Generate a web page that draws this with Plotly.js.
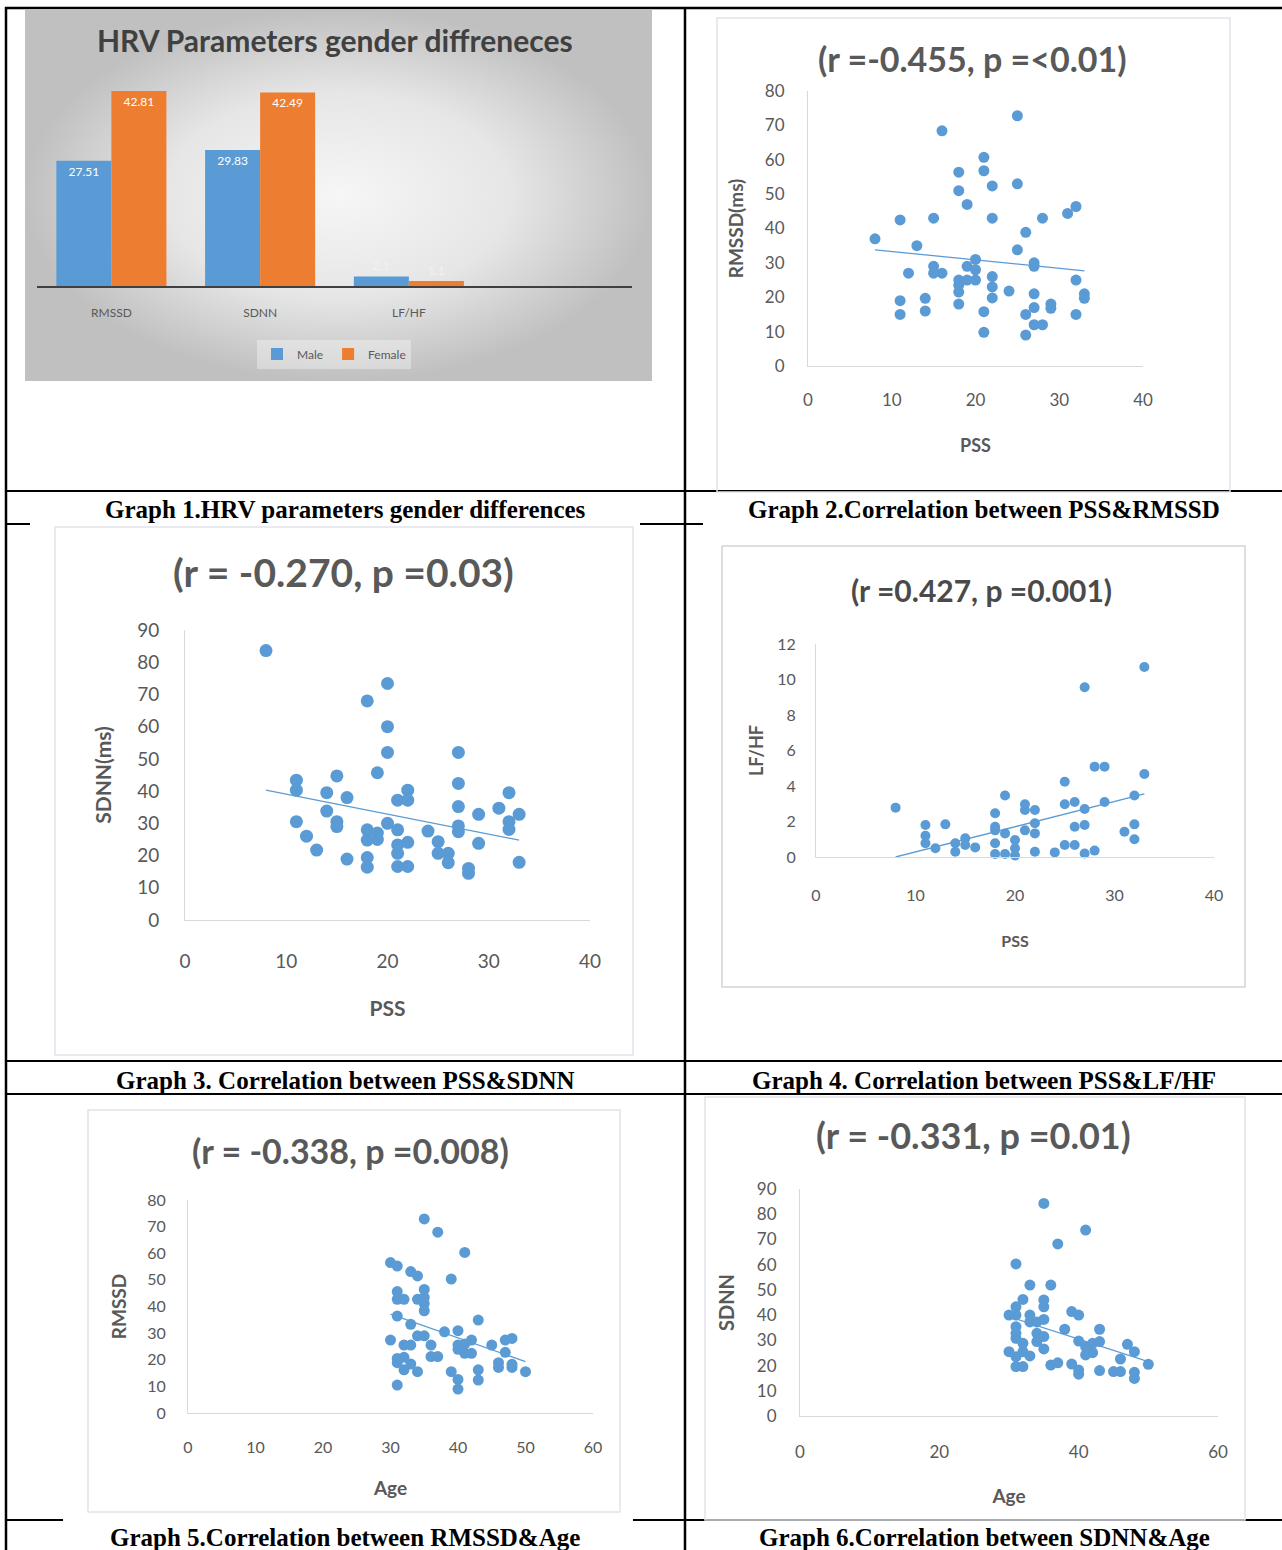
<!DOCTYPE html>
<html>
<head>
<meta charset="utf-8">
<script src="https://cdn.plot.ly/plotly-3.0.1.min.js"></script>
<style>
html,body{margin:0;padding:0;background:#ffffff;}
#chart{width:1282px;height:1550px;}
</style>
</head>
<body>
<div id="chart"></div>
<script>
// ---------------- DATA ----------------
// Graph 1: HRV parameters gender differences
const hrvCategories = ['RMSSD', 'SDNN', 'LF/HF'];
const maleValues = [27.51, 29.83, 2.1];
const femaleValues = [42.81, 42.49, 1.1];

// Graph 2: PSS vs RMSSD
const g2PSS = [8,11,11,11,12,13,14,14,15,15,15,16,16,18,18,18,18,18,18,19,19,19,20,20,20,21,21,21,21,22,22,22,22,22,24,25,25,25,26,26,26,27,27,27,27,27,28,28,29,29,31,32,32,32,33,33];
const g2RMSSD = [37,42.5,19,15,27,35,19.7,16,43,29,27,27,68.4,56.4,51,25,23.5,21.5,18,47,29,25,31,28,25,60.7,56.8,15.8,9.8,52.4,43,26,23,19.8,21.8,72.8,53,33.8,38.9,15,9,30,29,21,17,12,43,12,18,16.8,44.4,46.4,25,15,21,19.7];
const g2TrendPSS = [8, 33];
const g2TrendRMSSD = [33.8, 27.7];

// Graph 3: PSS vs SDNN
const g3PSS = [8,11,11,11,12,13,14,14,15,15,15,16,16,18,18,18,18,18,19,19,19,20,20,20,20,21,21,21,21,21,22,22,22,22,24,25,25,26,26,27,27,27,27,27,28,28,29,29,31,32,32,32,33,33];
const g3SDNN = [83.6,43.4,40.3,30.5,26,21.7,39.5,33.8,44.7,30.5,29,38,18.9,68,28,24.8,19.4,16.4,45.7,27,25,73.4,60,52,30,37.2,28,23.3,20.7,16.6,40.3,37.2,24.1,16.6,27.6,24.3,20.7,20.7,17.8,52,42.4,35.2,29.2,27.4,16,14.5,32.8,23.8,34.7,39.5,30.5,28.1,32.8,17.9];
const g3TrendPSS = [8, 33];
const g3TrendSDNN = [40.3, 24.8];

// Graph 4: PSS vs LF/HF
const g4PSS = [8,11,11,11,12,13,14,14,15,15,16,18,18,18,18,18,19,19,19,20,20,20,21,21,21,22,22,22,22,24,25,25,25,26,26,26,27,27,27,27,28,28,29,29,31,32,32,32,33,33];
const g4LFHF = [2.78,1.8,1.2,0.77,0.49,1.84,0.77,0.3,1.05,0.68,0.54,2.46,1.7,1.5,0.77,0.17,3.46,1.33,0.17,0.96,0.49,0.08,2.97,2.65,1.5,2.65,1.9,1.33,0.3,0.26,4.24,2.97,0.68,3.1,1.7,0.68,9.56,2.7,1.8,0.2,5.09,0.36,5.09,3.1,1.42,3.46,1.84,1.0,10.7,4.68];
const g4TrendPSS = [8, 33];
const g4TrendLFHF = [0, 3.55];

// Graph 5: Age vs RMSSD
const g5Age = [30,30,31,31,31,31,31,31,31,32,32,32,32,33,33,33,33,34,34,34,34,35,35,35,35,35,35,36,36,37,37,38,39,39,40,40,40,40,40,41,41,41,42,42,43,43,43,45,46,46,47,47,48,48,48,50];
const g5RMSSD = [27.4,56.5,55.2,45.6,42.7,36.4,20.5,18.9,10.5,42.7,25.5,20.9,16.2,53.1,33.3,25.5,18.4,51.5,42.7,29,15.5,72.9,46.4,43.4,41.1,38.4,29,25.5,21.2,67.9,21.2,30.5,50.3,15.5,30.9,25.5,23.9,12.6,9,60.3,25.9,22.4,27.4,22.4,34.9,16.2,12.4,25.5,18.9,17.1,27.4,22.8,28,18.3,17.1,15.5];
const g5TrendAge = [30, 50];
const g5TrendRMSSD = [37.1, 19.3];

// Graph 6: Age vs SDNN
const g6Age = [30,30,31,31,31,31,31,31,31,31,32,32,32,32,33,33,33,33,34,34,34,35,35,35,35,35,35,36,36,37,37,38,39,39,40,40,40,40,41,41,41,42,42,43,43,43,45,46,46,47,48,48,48,50];
const g6SDNN = [25.5,40,60.3,43.3,40,35.4,32.8,30.8,23.5,19.6,46.2,28.8,25.5,19.6,51.9,40,37.3,23.8,37.3,32.8,29.5,84.3,46,43.3,38.3,31.5,26.6,51.9,20.2,68.2,21.1,34.4,41.4,20.6,40,29.7,18.2,16.6,73.7,27.5,24.2,28.8,25.1,34.4,29.5,18,17.6,17.6,22.6,28.4,25.5,17.3,14.9,20.5];
const g6TrendAge = [30, 50];
const g6TrendSDNN = [39.4, 21.6];

// ---------------- HELPERS ----------------
const W = 1282, H = 1550;
const fx = p => p / W;
const fy = p => 1 - p / H;
const FONT = "Lato, 'Open Sans', sans-serif";
const SERIF = "'Liberation Serif', 'DejaVu Serif', serif";
const BLUE = '#5B9BD5';
const ORANGE = '#ED7D31';
const TXT = '#595959';

const layout = {
  width: W, height: H, autosize: false,
  margin: {l: 0, r: 0, t: 0, b: 0, pad: 0},
  paper_bgcolor: '#ffffff', plot_bgcolor: 'rgba(0,0,0,0)',
  showlegend: true,
  barmode: 'group', bargap: 0.26, bargroupgap: 0,
  font: {family: FONT, color: TXT},
  legend: {orientation: 'h', x: fx(334), xanchor: 'center', y: fy(354), yanchor: 'middle',
           font: {family: FONT, size: 12, color: TXT}, bgcolor: 'rgba(255,255,255,0.35)',
           itemwidth: 30, tracegroupgap: 0},
  shapes: [], annotations: []
};
const traces = [];

// background of graph 1 (gradient panel)
layout.xaxis = {domain: [fx(25), fx(652)], range: [0, 1], visible: false, fixedrange: true, anchor: 'y'};
layout.yaxis = {domain: [fy(381), fy(9)], range: [0, 1], visible: false, fixedrange: true, anchor: 'x'};
traces.push({type: 'scatter', mode: 'lines', x: [0, 1, 1, 0, 0], y: [0, 0, 1, 1, 0], xaxis: 'x', yaxis: 'y',
  fill: 'toself', line: {width: 0},
  fillgradient: {type: 'radial', colorscale: [[0, '#f6f6f6'], [0.55, '#e6e6e6'], [1, '#c0c0c0']]},
  hoverinfo: 'skip', showlegend: false});

// Graph 1 bars
layout.xaxis2 = {domain: [fx(37), fx(632)], anchor: 'y2', type: 'category', range: [-0.5, 3.5],
  showline: true, linecolor: '#404040', linewidth: 2, ticks: '', showgrid: false, zeroline: false,
  ticklabelstandoff: 15, tickfont: {family: FONT, size: 12, color: TXT}, fixedrange: true};
layout.yaxis2 = {domain: [fy(286), fy(81)], anchor: 'x2', range: [0, 45], visible: false, fixedrange: true};
[['Male', maleValues, BLUE], ['Female', femaleValues, ORANGE]].forEach(([nm, vals, col]) => {
  traces.push({type: 'bar', name: nm, x: hrvCategories, y: vals, xaxis: 'x2', yaxis: 'y2',
    marker: {color: col}, text: vals.map(String),
    textposition: vals.map(v => v > 5 ? 'inside' : 'outside'),
    insidetextanchor: 'end', constraintext: 'none', cliponaxis: false,
    textfont: {family: FONT, size: 12, color: '#ffffff'},
    outsidetextfont: {family: FONT, size: 12, color: '#f2f2f2'},
    hoverinfo: 'skip'});
});
layout.annotations.push({xref: 'paper', yref: 'paper', x: fx(335), y: fy(40), xanchor: 'center', yanchor: 'middle',
  showarrow: false, text: 'HRV Parameters gender diffreneces',
  font: {family: FONT, size: 30, color: '#404040', weight: 'bold'}});

// scatter charts
function scatterChart(n, o) {
  layout['xaxis' + n] = {domain: [fx(o.x0), fx(o.x1)], anchor: 'y' + n, range: o.xr, dtick: o.xd, tick0: 0,
    showgrid: false, zeroline: false, showline: true, linecolor: '#d9d9d9', linewidth: 1, ticks: '',
    ticklabelstandoff: o.xgap, tickfont: {family: FONT, size: o.tf, color: TXT},
    title: {text: o.xt, standoff: o.xso, font: {family: FONT, size: o.xfs, color: TXT, weight: 'bold'}},
    fixedrange: true};
  layout['yaxis' + n] = {domain: [fy(o.yBot), fy(o.yTop)], anchor: 'x' + n, range: o.yr, dtick: o.yd, tick0: 0,
    showgrid: false, zeroline: false, showline: true, linecolor: '#d9d9d9', linewidth: 1, ticks: '',
    ticklabelstandoff: o.ygap, tickfont: {family: FONT, size: o.tf, color: TXT},
    title: {text: o.yt, standoff: o.yso, font: {family: FONT, size: o.yfs, color: TXT, weight: 'bold'}},
    fixedrange: true};
  traces.push({type: 'scatter', mode: 'markers', x: o.x, y: o.y, xaxis: 'x' + n, yaxis: 'y' + n,
    marker: {color: BLUE, size: o.ms, line: {width: 0}}, cliponaxis: false, showlegend: false, hoverinfo: 'skip'});
  traces.push({type: 'scatter', mode: 'lines', x: o.tx, y: o.ty, xaxis: 'x' + n, yaxis: 'y' + n,
    line: {color: BLUE, width: 1.3}, cliponaxis: false, showlegend: false, hoverinfo: 'skip'});
  layout.annotations.push({xref: 'paper', yref: 'paper', x: fx(o.tcx), y: fy(o.tcy), xanchor: 'center', yanchor: 'middle',
    showarrow: false, text: o.title, font: {family: FONT, size: o.tsize, color: o.tcol || TXT, weight: 'bold'}});
}

scatterChart(3, {x0: 808, x1: 1143, yTop: 91, yBot: 366, xr: [0, 40], xd: 10, yr: [0, 80], yd: 10,
  tf: 17, xfs: 18, yfs: 19, xgap: 19, ygap: 19, xt: 'PSS', yt: 'RMSSD(ms)', xso: 29, yso: 16,
  x: g2PSS, y: g2RMSSD, tx: g2TrendPSS, ty: g2TrendRMSSD, ms: 11,
  title: '(r =-0.455, p =<0.01)', tcx: 972, tcy: 58, tsize: 34});

scatterChart(4, {x0: 185, x1: 590, yTop: 630, yBot: 920, xr: [0, 40], xd: 10, yr: [0, 90], yd: 10,
  tf: 19, xfs: 21, yfs: 21, xgap: 24, ygap: 21, xt: 'PSS', yt: 'SDNN(ms)', xso: 30, yso: 19,
  x: g3PSS, y: g3SDNN, tx: g3TrendPSS, ty: g3TrendSDNN, ms: 13,
  title: '(r = -0.270, p =0.03)', tcx: 343, tcy: 572, tsize: 39});

scatterChart(5, {x0: 816, x1: 1214, yTop: 644, yBot: 857, xr: [0, 40], xd: 10, yr: [0, 12], yd: 2,
  tf: 16, xfs: 16, yfs: 18, xgap: 24, ygap: 16, xt: 'PSS', yt: 'LF/HF', xso: 32, yso: 8,
  x: g4PSS, y: g4LFHF, tx: g4TrendPSS, ty: g4TrendLFHF, ms: 10,
  title: '(r =0.427, p =0.001)', tcx: 981, tcy: 590, tsize: 30, tcol: '#4a4a4a'});

scatterChart(6, {x0: 188, x1: 593, yTop: 1200, yBot: 1413, xr: [0, 60], xd: 10, yr: [0, 80], yd: 10,
  tf: 16, xfs: 19, yfs: 19, xgap: 20, ygap: 18, xt: 'Age', yt: 'RMSSD', xso: 26, yso: 15,
  x: g5Age, y: g5RMSSD, tx: g5TrendAge, ty: g5TrendRMSSD, ms: 11,
  title: '(r = -0.338, p =0.008)', tcx: 350, tcy: 1150, tsize: 34});

scatterChart(7, {x0: 800, x1: 1218, yTop: 1189, yBot: 1416, xr: [0, 60], xd: 20, yr: [0, 90], yd: 10,
  tf: 17, xfs: 19, yfs: 20, xgap: 21, ygap: 19, xt: 'Age', yt: 'SDNN', xso: 28, yso: 16,
  x: g6Age, y: g6SDNN, tx: g6TrendAge, ty: g6TrendSDNN, ms: 11,
  title: '(r = -0.331, p =0.01)', tcx: 973, tcy: 1135, tsize: 36});

// ---------------- TABLE GRID ----------------
function hline(y, x0, x1, w) {
  layout.shapes.push({type: 'line', xref: 'paper', yref: 'paper', x0: fx(x0), x1: fx(x1), y0: fy(y), y1: fy(y),
    line: {color: '#000000', width: w}, layer: 'below'});
}
function vline(x, y0, y1, w) {
  layout.shapes.push({type: 'line', xref: 'paper', yref: 'paper', x0: fx(x), x1: fx(x), y0: fy(y0), y1: fy(y1),
    line: {color: '#000000', width: w}, layer: 'below'});
}
function rect(x0, y0, x1, y1, fill, lineCol) {
  layout.shapes.push({type: 'rect', xref: 'paper', yref: 'paper', x0: fx(x0), x1: fx(x1), y0: fy(y1), y1: fy(y0),
    fillcolor: fill, line: {color: lineCol || 'rgba(0,0,0,0)', width: lineCol ? 1.5 : 0}, layer: 'below'});
}
hline(8, 5, 1282, 2.5);
[491, 524, 1061, 1094, 1520].forEach(y => hline(y, 5, 1282, 2));
vline(6, 7, 1550, 2.5);
vline(685, 7, 1550, 2.5);

// white picture areas covering part of the caption underlines
rect(30, 523, 640, 1058, '#ffffff');
rect(703, 523, 1282, 990, '#ffffff');
rect(63, 1096, 633, 1521, '#ffffff');

// faint chart frames
rect(717, 18, 1230, 492, 'rgba(0,0,0,0)', '#e1e4ea');
rect(55, 527, 633, 1055, 'rgba(0,0,0,0)', '#e1e4ea');
rect(722, 546, 1245, 987, 'rgba(0,0,0,0)', '#d4d4d4');
rect(88, 1110, 620, 1512, 'rgba(0,0,0,0)', '#e1e4ea');
rect(705, 1097, 1245, 1520, 'rgba(0,0,0,0)', '#e1e4ea');

// captions
const captions = [
  ['Graph 1.HRV parameters gender differences', 345, 509],
  ['Graph 2.Correlation between PSS&amp;RMSSD', 984, 509],
  ['Graph 3. Correlation between PSS&amp;SDNN', 345, 1080],
  ['Graph 4. Correlation between PSS&amp;LF/HF', 984, 1080],
  ['Graph 5.Correlation between RMSSD&amp;Age', 345, 1537],
  ['Graph 6.Correlation between SDNN&amp;Age', 984, 1537]
];
captions.forEach(([t, x, y]) => layout.annotations.push({xref: 'paper', yref: 'paper', x: fx(x), y: fy(y),
  xanchor: 'center', yanchor: 'middle', showarrow: false, text: t,
  font: {family: SERIF, size: 25, color: '#000000', weight: 'bold'}}));

Plotly.newPlot('chart', traces, layout, {displayModeBar: false, staticPlot: true});
</script>
</body>
</html>
